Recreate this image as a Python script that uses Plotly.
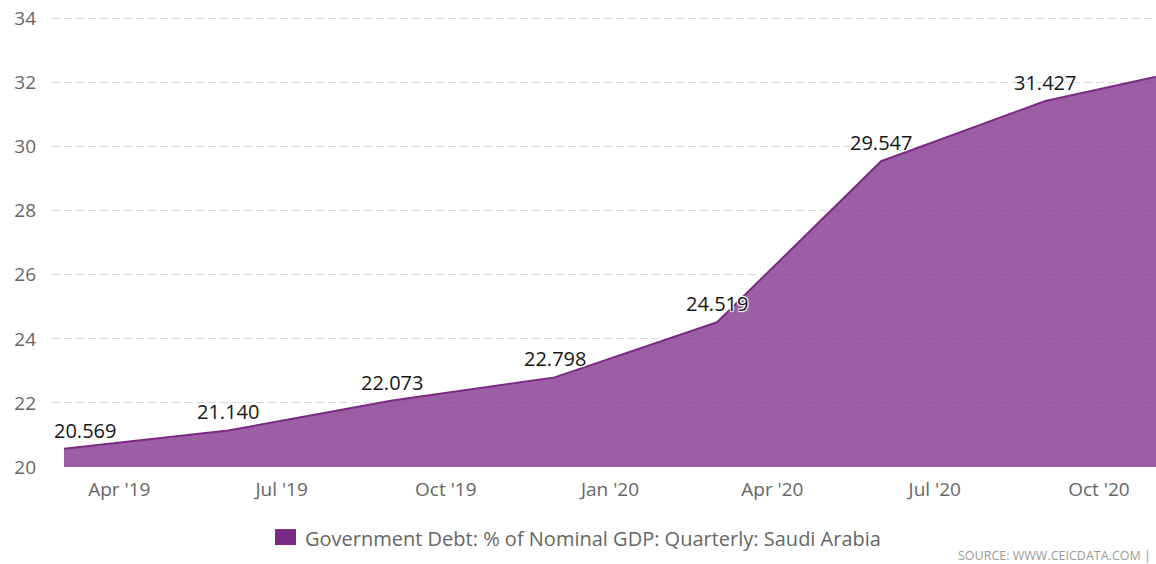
import plotly.graph_objects as go

# Quarterly government debt, % of nominal GDP (Saudi Arabia)
dates = ["2019-03-01", "2019-06-01", "2019-09-01", "2019-12-01",
         "2020-03-01", "2020-06-01", "2020-09-01", "2020-12-01"]
values = [20.569, 21.140, 22.073, 22.798, 24.519, 29.547, 31.427, 32.54]

x_range = ["2019-02-22 07:00", "2020-11-02"]
y_range = [20, 34.05]
y_ticks = [20, 22, 24, 26, 28, 30, 32, 34]
x_ticks = ["2019-04-01", "2019-07-01", "2019-10-01", "2020-01-01",
           "2020-04-01", "2020-07-01", "2020-10-01"]
x_tick_labels = ["Apr '19", "Jul '19", "Oct '19", "Jan '20",
                 "Apr '20", "Jul '20", "Oct '20"]

series_name = "Government Debt: % of Nominal GDP: Quarterly: Saudi Arabia"
source_text = "SOURCE: WWW.CEICDATA.COM |"

LINE = "#7b2a83"
FILL = "rgba(125,43,135,0.76)"
FONT = "Open Sans, DejaVu Sans, sans-serif"
HALO = "1px 1px 1px #fff, -1px -1px 1px #fff, 1px -1px 1px #fff, -1px 1px 1px #fff"

PLOT_TOP, PLOT_BOTTOM, PLOT_LEFT, PLOT_W = 17.4, 467, 52, 1104
PLOT_H = PLOT_BOTTOM - PLOT_TOP


def px_x(px):
    return (px - PLOT_LEFT) / PLOT_W


def px_y(px):
    return (PLOT_BOTTOM - px) / PLOT_H


fig = go.Figure()
fig.add_trace(go.Scatter(
    x=dates, y=values, mode="lines", fill="tozeroy",
    line=dict(color=LINE, width=2), fillcolor=FILL,
    showlegend=False, hoverinfo="skip",
))

# value labels above each visible point (first one nudged inside the plot)
annotations = []
for i, (d, v) in enumerate(zip(dates, values)):
    if d > x_range[1]:
        continue
    annotations.append(dict(
        x=d, y=v, xref="x", yref="y", text=f"{v:.3f}", showarrow=False,
        yanchor="bottom", xanchor="center", yshift=3,
        xshift=21 if i == 0 else 0,
        font=dict(family=FONT, size=20, color="#151515", shadow=HALO),
    ))

# legend entry
annotations.append(dict(
    x=px_x(303), y=px_y(538), xref="paper", yref="paper",
    text=series_name, showarrow=False, xanchor="left", yanchor="middle",
    font=dict(family=FONT, size=20, color="#666666"),
))
annotations.append(dict(
    x=px_x(1153), y=px_y(555), xref="paper", yref="paper",
    text=source_text, showarrow=False, xanchor="right", yanchor="middle",
    font=dict(family=FONT, size=12.5, color="#999999"),
))

shapes = [dict(
    type="rect", xref="paper", yref="paper",
    x0=px_x(275), x1=px_x(296), y0=px_y(529), y1=px_y(545),
    fillcolor=LINE, line=dict(width=0),
)]

fig.update_layout(
    width=1156, height=564,
    margin=dict(l=PLOT_LEFT, r=0, t=PLOT_TOP, b=564 - PLOT_BOTTOM),
    paper_bgcolor="white", plot_bgcolor="white",
    annotations=annotations, shapes=shapes,
    showlegend=False,
    xaxis=dict(
        type="date", range=x_range, tickvals=x_ticks, ticktext=x_tick_labels,
        showgrid=False, zeroline=False, showline=False,
        tickfont=dict(family=FONT, size=19, color="#666666"),
        ticks="", ticklabelstandoff=9,
    ),
    yaxis=dict(
        range=y_range, tickvals=y_ticks, showgrid=True,
        gridcolor="#d9d9d9", griddash="8px,4px", gridwidth=1,
        zeroline=False, showline=False, ticks="",
        tickfont=dict(family=FONT, size=19, color="#666666"),
        ticklabelstandoff=15,
    ),
)

fig.write_html("out.html")
